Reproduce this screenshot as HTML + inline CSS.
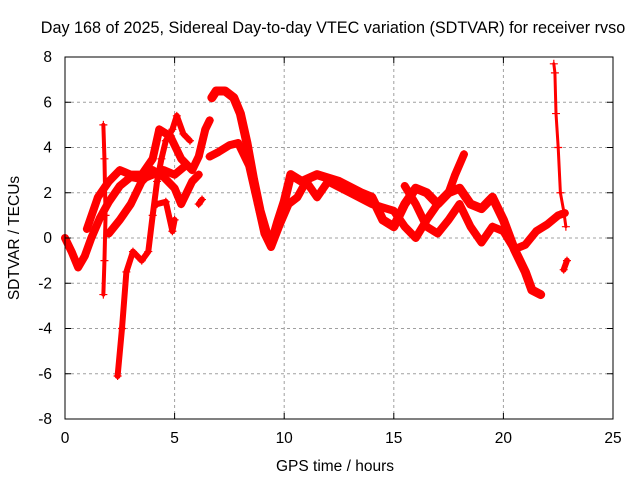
<!DOCTYPE html>
<html><head><meta charset="utf-8"><style>
body{margin:0;background:#fff}
svg text{font-family:"Liberation Sans",sans-serif;font-size:15.5px;fill:#000}
</style></head><body>
<svg width="640" height="480" id="chart">
<rect width="640" height="480" fill="#fff"/>
<text x="333" y="33" text-anchor="middle" style="font-size:16.2px">Day 168 of 2025, Sidereal Day-to-day VTEC variation (SDTVAR) for receiver rvso</text>
<text x="335" y="471" text-anchor="middle">GPS time / hours</text>
<text transform="translate(19,238) rotate(-90)" text-anchor="middle">SDTVAR / TECUs</text>
<g id="grid"></g><g id="series"></g>
<rect x="65" y="57" width="548" height="362" fill="none" stroke="#000" stroke-width="1"/>
<g id="ticks"></g>
</svg>
<script>
const xTicks=[0,5,10,15,20,25];
const yTicks=[-8,-6,-4,-2,0,2,4,6,8];
const trackA=[[0,0],[0.3,-0.6],[0.6,-1.3],[0.9,-0.8],[1.2,0],[1.6,0.9],[2,1.6],[2.5,2.3],[3,2.7],[3.5,2.6],[4,2.8],[4.5,3],[5,2.8],[5.5,3.2]];
const trackB=[[1,0.4],[1.5,1.8],[2,2.5],[2.5,3],[3,2.8],[3.5,2.8],[4,3.5],[4.3,4.8],[4.8,4.5],[5.3,3.5],[5.8,3],[6.1,3.6],[6.4,4.8],[6.6,5.2]];
const trackC=[[2,0.2],[2.5,0.8],[3,1.5],[3.5,2.5],[4,3],[4.5,2.7],[5,2.2],[5.3,1.5],[5.8,2.5],[6.1,2.8]];
const trackD=[[2.4,-6.1],[2.6,-4],[2.8,-1.5],[3.1,-0.6],[3.5,-1],[3.8,-0.6],[4,1],[4.2,2.5],[4.4,3.5],[4.6,4.3],[4.9,4.8],[5.1,5.4],[5.4,4.6],[5.7,4.3]];
const trackE=[[4.2,1.5],[4.6,1.6],[4.9,0.3],[5,0.8]];
const trackF=[[6.7,6.2],[6.9,6.5],[7.3,6.5],[7.7,6.2],[8,5.5],[8.3,4.2],[8.6,2.6],[8.9,1.2],[9.2,0.2],[9.4,-0.3],[9.7,0.7],[10,1.6],[10.3,2.8],[10.8,2.5],[11.5,2.8],[12.5,2.5],[13.5,2],[14,1.8],[14.5,0.8],[15,0.5],[15.5,1.5],[16,2.2],[16.5,2],[17,1.5],[17.5,2],[18,2.2],[18.5,1.5],[19,1.3],[19.5,1.8],[20,0.8],[20.5,-0.5],[21,-1.5],[21.3,-2.3],[21.7,-2.5]];
const trackG=[[6.6,3.6],[7,3.8],[7.5,4.1],[7.9,4.2],[8.4,3.2],[8.8,1.5],[9.1,0.2],[9.4,-0.4],[9.8,0.6],[10.2,1.5],[10.6,1.8],[11,2.5],[11.5,1.8],[12,2.5],[13,2],[14,1.5],[15,1.2],[15.5,0.5],[16,0],[16.5,0.8],[17,1.5],[17.5,2],[17.8,2.8],[18.2,3.7]];
const trackH=[[15.5,2.3],[16,1.5],[16.5,0.5],[17,0.2],[17.5,0.8],[18,1.5],[18.5,0.5],[19,-0.2],[19.5,0.5],[20,0.3],[20.5,-0.5],[21,-0.3],[21.5,0.3],[22,0.6],[22.5,1],[22.8,1.1]];
const trackS=[[22.3,7.7],[22.35,7.3],[22.4,5.5],[22.5,4],[22.6,2],[22.75,1.2],[22.85,0.5]];
const trackT=[[22.75,-1.4],[22.9,-1]];
const trackU=[[1.75,5],[1.8,3.5],[1.85,1],[1.8,-1],[1.75,-2.5]];
const trackV=[[6.1,1.5],[6.25,1.7]];
const tracks=[trackA,trackB,trackC,trackD,trackE,trackF,trackG,trackH,trackS,trackT,trackU,trackV];
const widths=[8,8,8,6,6,9,8,8,3,6,4,6];
const NS="http://www.w3.org/2000/svg";
const X=h=>65+h*548/25, Y=v=>238-v*362/16;
const grid=document.getElementById('grid'),ticks=document.getElementById('ticks'),ser=document.getElementById('series');
function mk(tag,at,p){const e=document.createElementNS(NS,tag);for(const k in at)e.setAttribute(k,at[k]);p.appendChild(e);return e;}
xTicks.forEach(t=>{const x=X(t);
 if(t>0&&t<25){const g=mk('line',{x1:x,x2:x,y1:57,y2:419,stroke:'#a0a0a0','stroke-dasharray':'3,3'},grid);
 
 }
 mk('line',{x1:x,x2:x,y1:419,y2:413,stroke:'#000'},ticks);mk('line',{x1:x,x2:x,y1:57,y2:63,stroke:'#000'},ticks);
 const l=mk('text',{x:x,y:443,'text-anchor':'middle'},ticks);l.textContent=t;
 
 });
yTicks.forEach(t=>{const y=Y(t);
 if(t>-8&&t<8){const g=mk('line',{x1:65,x2:613,y1:y,y2:y,stroke:'#a0a0a0','stroke-dasharray':'3,3'},grid);
 
 }
 mk('line',{x1:65,x2:71,y1:y,y2:y,stroke:'#000'},ticks);mk('line',{x1:613,x2:607,y1:y,y2:y,stroke:'#000'},ticks);
 const l=mk('text',{x:52,y:y+5,'text-anchor':'end'},ticks);l.textContent=t;
 
 });
tracks.forEach((tr,i)=>{
 const pl=mk('polyline',{points:tr.map(p=>X(p[0])+','+Y(p[1])).join(' '),fill:'none',stroke:'#ff0000','stroke-width':widths[i],'stroke-linejoin':'round','stroke-linecap':'round'},ser);
 
 
 tr.forEach(p=>{const x=X(p[0]),y=Y(p[1]);
  const m=mk('path',{d:`M${x-4},${y}h8M${x},${y-4}v8`,stroke:'#ff0000','stroke-width':1.2},ser);
  
  });
});
</script>
</body></html>
